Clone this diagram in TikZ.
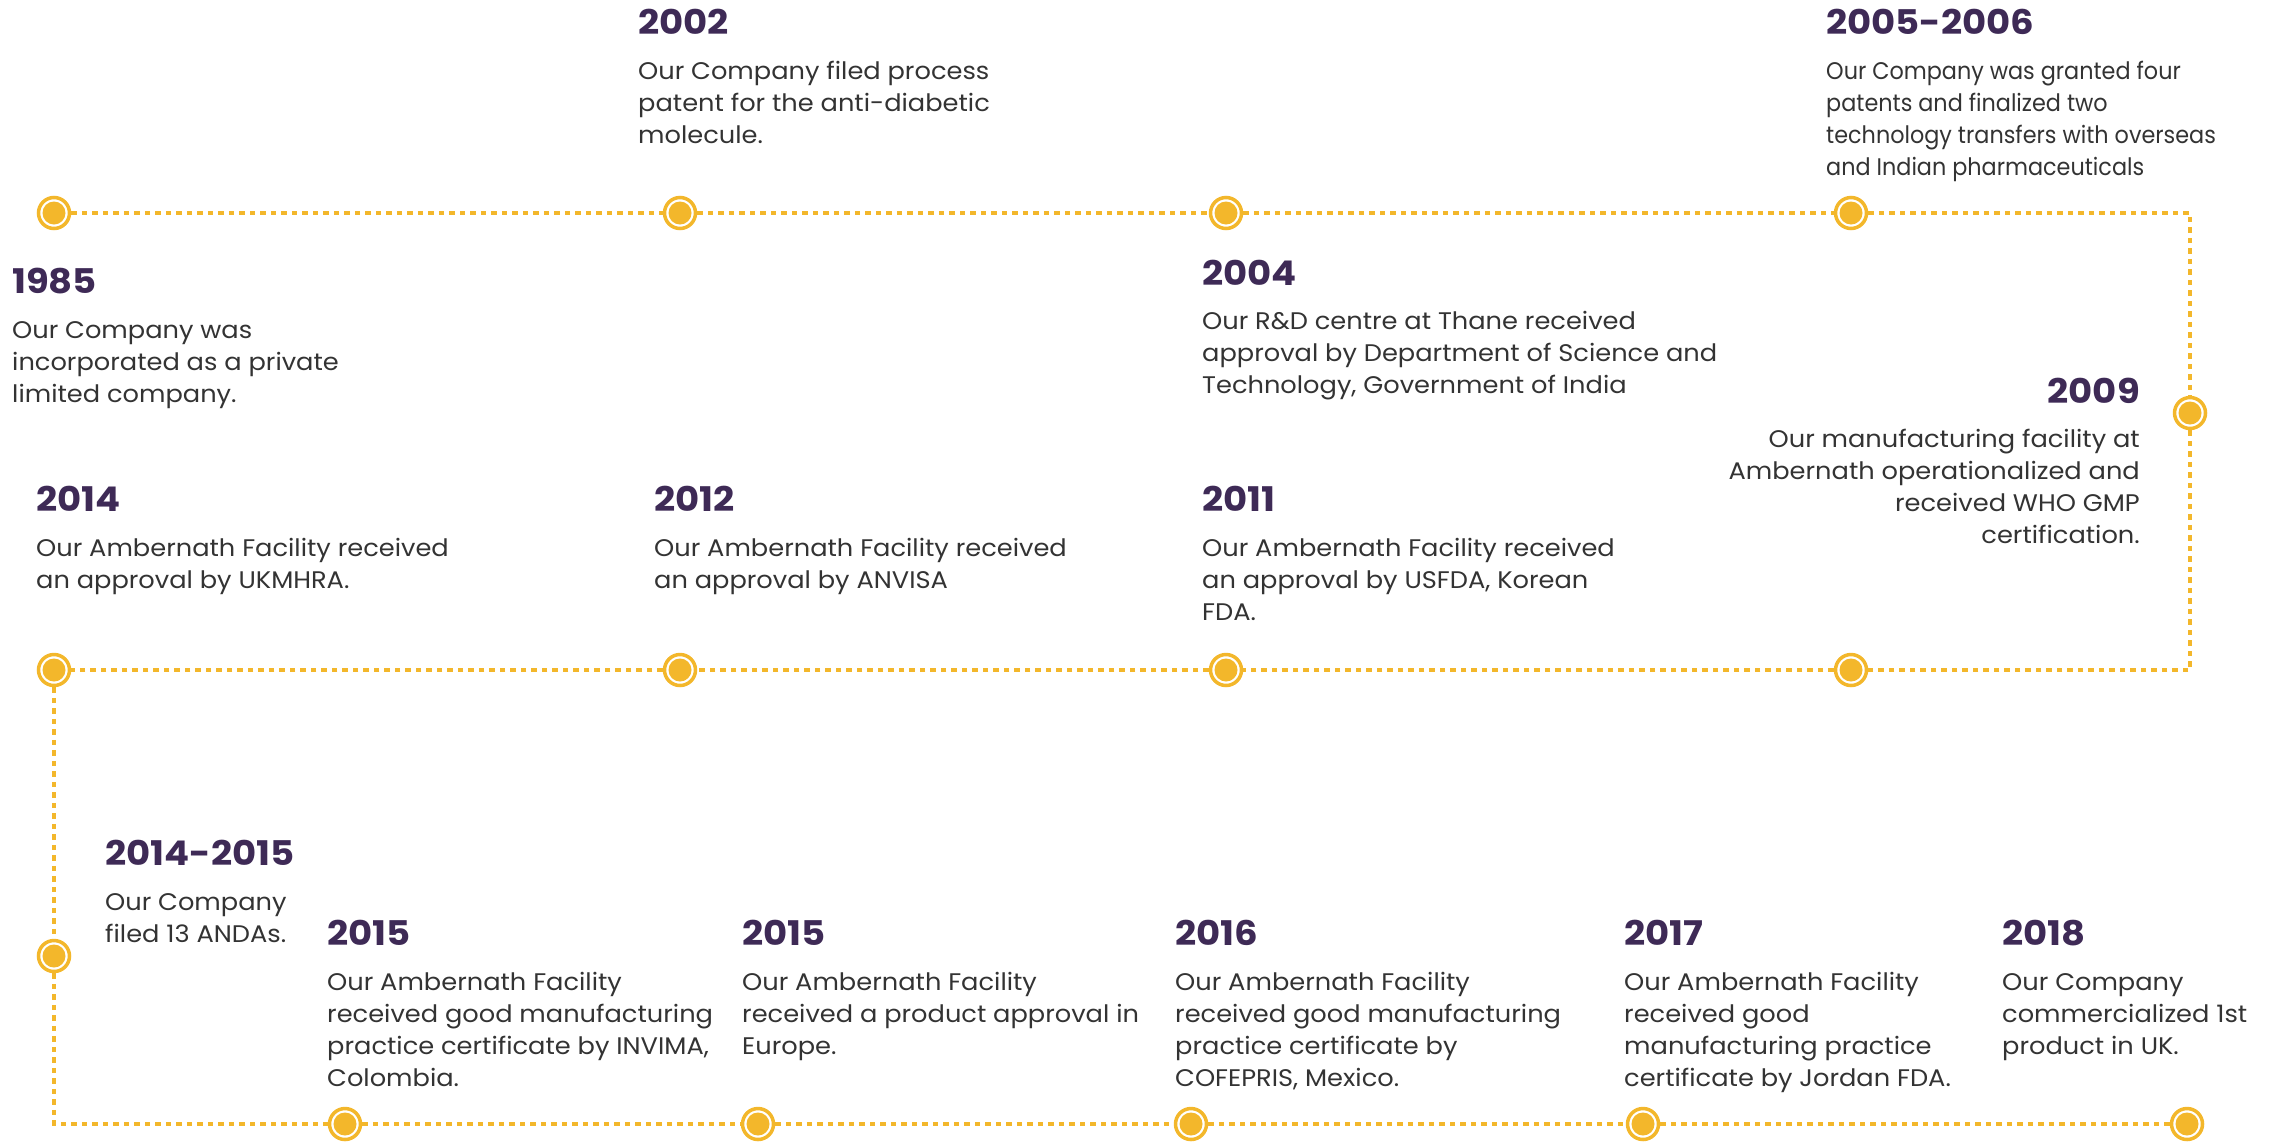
\documentclass[tikz,border=0pt]{standalone}
\usepackage{fontspec}
\setmainfont{Poppins}
\newfontfamily\bodyfont[FakeStretch=1.07]{Poppins}
\newfontfamily\narrowbody[FakeStretch=0.93]{Poppins}
\newfontfamily\yearfont[FakeStretch=1.09]{Poppins}
\definecolor{gold}{HTML}{F3B72B}
\definecolor{plum}{HTML}{3E2A56}
\definecolor{bodygray}{HTML}{333333}
\begin{document}
\begin{tikzpicture}[x=1pt,y=-1pt,
  yr/.style={anchor=base west, font=\yearfont\fontsize{34}{34}\selectfont\bfseries, text=plum, inner sep=0pt},
  bd/.style={anchor=base west, align=left, font=\bodyfont\fontsize{24}{32}\selectfont, text=bodygray, inner sep=0pt},
  bdn/.style={bd, font=\narrowbody\fontsize{24}{32}\selectfont},
  mk/.style={circle, draw=gold, line width=3.5pt, fill=white, minimum size=31pt, inner sep=0pt,
    path picture={\fill[gold] (path picture bounding box.center) circle (11.5pt);}},
  conn/.style={draw=gold, line width=3.3pt, dash pattern=on 5.5pt off 5pt}]
\useasboundingbox (0,0) rectangle (2289,1144);
% markers
\node[mk] (m1) at (54,213) {};
\node[mk] (m2) at (680,213) {};
\node[mk] (m3) at (1226,213) {};
\node[mk] (m4) at (1851,213) {};
\node[mk] (m5) at (2190,413) {};
\node[mk] (m6) at (1851,670) {};
\node[mk] (m7) at (1226,670) {};
\node[mk] (m8) at (680,670) {};
\node[mk] (m9) at (54,670) {};
\node[mk] (m10) at (54,956) {};
\coordinate (c1) at (54,1124);
\node[mk] (m11) at (345,1124) {};
\node[mk] (m12) at (758,1124) {};
\node[mk] (m13) at (1191,1124) {};
\node[mk] (m14) at (1643,1124) {};
\node[mk] (m15) at (2187,1124) {};
% connectors
\path[conn] (m1) -- (m2);
\path[conn] (m2) -- (m3);
\path[conn] (m3) -- (m4);
\path[conn] (m4) -| (m5);
\path[conn] (m5) |- (m6);
\path[conn] (m6) -- (m7);
\path[conn] (m7) -- (m8);
\path[conn] (m8) -- (m9);
\path[conn] (m9) -- (m10);
\path[conn] (m10) -- (c1) -- (m11);
\path[conn] (m11) -- (m12);
\path[conn] (m12) -- (m13);
\path[conn] (m13) -- (m14);
\path[conn] (m14) -- (m15);
% texts (body nodes are placed by the baseline of their last line)
\node[yr] (y1) at (12,293) {1985};
\node[bd] (t1) at (12,402) {Our Company was\\incorporated as a private\\limited company.};
\node[yr] (y2) at (638,34) {2002};
\node[bd] (t2) at (638,143) {Our Company filed process\\patent for the anti-diabetic\\molecule.};
\node[yr] (y3) at (1202,285) {2004};
\node[bd] (t3) at (1202,393) {Our R\&D centre at Thane received\\approval by Department of Science and\\Technology, Government of India};
\node[yr] (y4) at (1826,34) {2005-2006};
\node[bdn] (t4) at (1826,175) {Our Company was granted four\\patents and finalized two\\technology transfers with overseas\\and Indian pharmaceuticals};
\node[yr, anchor=base east] (y5) at (2140,403) {2009};
\node[bd, anchor=base east, align=right] (t5) at (2140,543) {Our manufacturing facility at\\Ambernath operationalized and\\received WHO GMP\\certification.};
\node[yr] (y6) at (36,511) {2014};
\node[bd] (t6) at (36,588) {Our Ambernath Facility received\\an approval by UKMHRA.};
\node[yr] (y7) at (654,511) {2012};
\node[bd] (t7) at (654,588) {Our Ambernath Facility received\\an approval by ANVISA};
\node[yr] (y8) at (1202,511) {2011};
\node[bd] (t8) at (1202,620) {Our Ambernath Facility received\\an approval by USFDA, Korean\\FDA.};
\node[yr] (y9) at (105,865) {2014-2015};
\node[bd] (t9) at (105,942) {Our Company\\filed 13 ANDAs.};
\node[yr] (y10) at (327,945) {2015};
\node[bd] (t10) at (327,1086) {Our Ambernath Facility\\received good manufacturing\\practice certificate by INVIMA,\\Colombia.};
\node[yr] (y11) at (742,945) {2015};
\node[bd] (t11) at (742,1054) {Our Ambernath Facility\\received a product approval in\\Europe.};
\node[yr] (y12) at (1175,945) {2016};
\node[bd] (t12) at (1175,1086) {Our Ambernath Facility\\received good manufacturing\\practice certificate by\\COFEPRIS, Mexico.};
\node[yr] (y13) at (1624,945) {2017};
\node[bd] (t13) at (1624,1086) {Our Ambernath Facility\\received good\\manufacturing practice\\certificate by Jordan FDA.};
\node[yr] (y14) at (2002,945) {2018};
\node[bd] (t14) at (2002,1054) {Our Company\\commercialized 1st\\product in UK.};
\end{tikzpicture}
\end{document}
